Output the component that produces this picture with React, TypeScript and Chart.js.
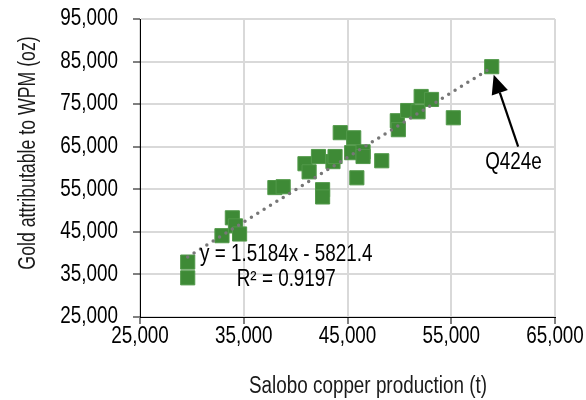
import React, { useEffect, useRef } from 'react';
import { Chart, registerables } from 'chart.js';
Chart.register(...registerables);

// Salobo copper production (t) per quarter
const copperT = [29600, 29600, 32900, 33900, 34200, 34600, 38000, 38800, 40900, 41300, 42200, 42600, 42600, 43600, 43800, 44300, 45400, 45600, 46500, 46500, 45900, 48300, 49800, 49900, 50800, 51800, 52100, 53100, 55200, 58900];
// Gold attributable to WPM (oz)
const goldOz = [37900, 34200, 44100, 48300, 46400, 44500, 55400, 55600, 61000, 59100, 62700, 54900, 53200, 61500, 62700, 68300, 63600, 67100, 63800, 62700, 57700, 61700, 71100, 69000, 73500, 73200, 76800, 76100, 71800, 83800];

const trendSlope = 1.5184;
const trendIntercept = -5821.4;
const equationText = 'y = 1.5184x - 5821.4';
const r2Text = 'R² = 0.9197';
const calloutText = 'Q424e';

const xTicks = [25000, 35000, 45000, 55000, 65000];
const yTicks = [25000, 35000, 45000, 55000, 65000, 75000, 85000, 95000];
const xTitle = 'Salobo copper production (t)';
const yTitle = 'Gold attributable to WPM (oz)';

const FONT = "'Liberation Sans', Arial, sans-serif";
const FS = 23;
const NARROW = 0.82;

const fmt = (v: number) => v.toLocaleString('en-US');

function narrowText(ctx: any, text: string, x: number, y: number, align: string, k = NARROW) {
  ctx.save();
  ctx.translate(x, y);
  ctx.scale(k, 1);
  ctx.textAlign = align;
  ctx.fillText(text, 0, 0);
  ctx.restore();
}

export default function App() {
  const ref = useRef<HTMLCanvasElement | null>(null);
  useEffect(() => {
    if (!ref.current) return;
    const minX = Math.min(...copperT);
    const maxX = Math.max(...copperT);
    const trend = [minX, maxX].map((x) => ({ x, y: trendSlope * x + trendIntercept }));
    const pts = copperT.map((x, i) => ({ x, y: goldOz[i] }));
    const lastIdx = copperT.indexOf(maxX);

    const annot = {
      id: 'annot',
      afterDatasetsDraw(chart: any) {
        const ctx = chart.ctx;
        const xs = chart.scales.x;
        const ys = chart.scales.y;
        ctx.save();
        ctx.fillStyle = '#000';
        ctx.font = `${FS}px ${FONT}`;
        ctx.textBaseline = 'middle';
        // tick labels
        yTicks.forEach((v) => narrowText(ctx, fmt(v), xs.left - 22, ys.getPixelForValue(v), 'right'));
        xTicks.forEach((v) => narrowText(ctx, fmt(v), xs.getPixelForValue(v), ys.bottom + 20, 'center'));
        // trendline label
        narrowText(ctx, equationText, xs.getPixelForValue(39100), ys.getPixelForValue(39600), 'center');
        narrowText(ctx, r2Text, xs.getPixelForValue(39100), ys.getPixelForValue(33700), 'center');
        narrowText(ctx, calloutText, xs.getPixelForValue(61000), ys.getPixelForValue(61300), 'center');
        // arrow
        const tx = xs.getPixelForValue(copperT[lastIdx]) + 2;
        const ty = ys.getPixelForValue(goldOz[lastIdx]) + 8;
        const sx = xs.getPixelForValue(61450);
        const sy = ys.getPixelForValue(65000);
        const ang = Math.atan2(ty - sy, tx - sx);
        const hl = 19, hw = 8.5;
        const bx = tx - hl * Math.cos(ang);
        const by = ty - hl * Math.sin(ang);
        ctx.strokeStyle = '#000';
        ctx.lineWidth = 2.2;
        ctx.beginPath();
        ctx.moveTo(sx, sy);
        ctx.lineTo(bx, by);
        ctx.stroke();
        ctx.beginPath();
        ctx.moveTo(tx, ty);
        ctx.lineTo(bx + hw * Math.sin(ang), by - hw * Math.cos(ang));
        ctx.lineTo(bx - hw * Math.sin(ang), by + hw * Math.cos(ang));
        ctx.closePath();
        ctx.fill();
        // axis titles
        ctx.fillStyle = '#1a1a1a';
        narrowText(ctx, xTitle, 368, 387, 'center');
        ctx.translate(29, 153);
        ctx.rotate(-Math.PI / 2);
        narrowText(ctx, yTitle, 0, 0, 'center', 0.77);
        ctx.restore();
      },
    };

    const chart = new Chart(ref.current, {
      type: 'scatter',
      data: {
        datasets: [
          {
            type: 'line',
            data: trend,
            borderColor: '#777777',
            borderWidth: 3.5,
            borderDash: [0, 7.5],
            borderCapStyle: 'round',
            pointRadius: 0,
            fill: false,
          } as any,
          {
            data: pts,
            pointStyle: 'rect',
            pointRadius: 10,
            backgroundColor: '#3e8a36',
            borderColor: '#52994a',
            borderWidth: 1,
          },
        ],
      },
      plugins: [annot],
      options: {
        responsive: false,
        animation: false,
        events: [],
        layout: { padding: { top: 19, right: 31, left: 0, bottom: 0 } },
        plugins: { legend: { display: false }, tooltip: { enabled: false } },
        scales: {
          x: {
            type: 'linear',
            min: 25000,
            max: 65000,
            afterFit: (s: any) => { s.height = 83; },
            afterBuildTicks: (s: any) => { s.ticks = xTicks.map((v) => ({ value: v })); },
            grid: { color: '#d9d9d9', lineWidth: 2, tickColor: '#000', tickLength: 7, tickWidth: 1 },
            border: { color: '#000', width: 1 },
            ticks: { display: false },
          },
          y: {
            type: 'linear',
            min: 25000,
            max: 95000,
            afterFit: (s: any) => { s.width = 140; },
            afterBuildTicks: (s: any) => { s.ticks = yTicks.map((v) => ({ value: v })); },
            grid: { color: '#d9d9d9', lineWidth: 2, tickColor: '#000', tickLength: 7, tickWidth: 1 },
            border: { color: '#000', width: 1 },
            ticks: { display: false },
          },
        },
      },
    });
    return () => chart.destroy();
  }, []);
  return (
    <div style={{ position: 'absolute', left: 0, top: 0, width: 586, height: 400, background: '#fff' }}>
      <canvas ref={ref} width={586} height={400} />
    </div>
  );
}
